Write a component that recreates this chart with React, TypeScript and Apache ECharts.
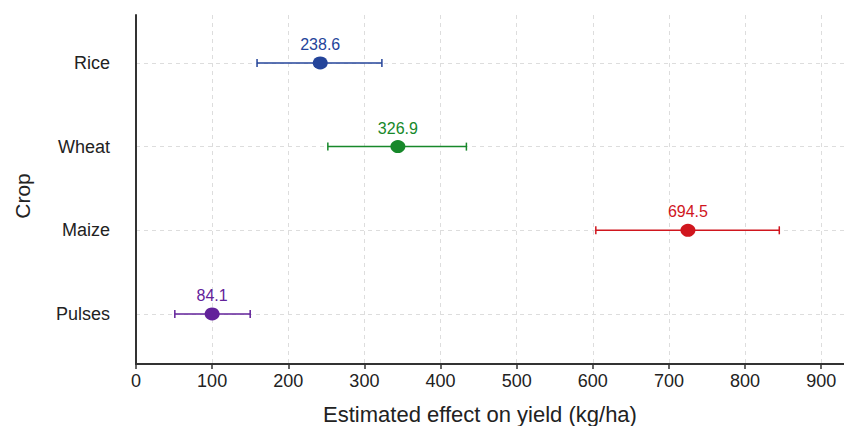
import React, { useEffect, useRef } from "react";
import * as echarts from "echarts";

const crops = ["Rice", "Wheat", "Maize", "Pulses"];
const estimates = [242, 344, 725, 100];
const lowerBounds = [159, 252, 604, 51];
const upperBounds = [323, 434, 845, 150];
const labelTexts = ["238.6", "326.9", "694.5", "84.1"];
const colors = ["#24449a", "#17882a", "#d0161e", "#62229a"];
const xTicks = [0, 100, 200, 300, 400, 500, 600, 700, 800, 900];
const rowIndex = [0, 1, 2, 3];
const xTitle = "Estimated effect on yield (kg/ha)";
const yTitle = "Crop";

const FONT = "'Liberation Sans', Arial, Helvetica, sans-serif";

export default function App() {
  const ref = useRef<HTMLDivElement>(null);
  useEffect(() => {
    if (!ref.current) return;
    const chart = echarts.init(ref.current, undefined, { renderer: "svg" });
    const option = {
      animation: false,
      backgroundColor: "#ffffff",
      textStyle: { fontFamily: FONT },
      grid: { left: 136, top: 15, right: 0, bottom: 62, outerBoundsMode: "none", containLabel: false },
      graphic: [
        {
          type: "text",
          x: 480,
          y: 414,
          style: { text: xTitle, fontSize: 22, fill: "#222", fontFamily: FONT, align: "center", verticalAlign: "middle" },
        },
        {
          type: "text",
          x: 22,
          y: 196,
          rotation: Math.PI / 2,
          style: { text: yTitle, fontSize: 21, fill: "#222", fontFamily: FONT, align: "center", verticalAlign: "middle" },
        },
      ],
      xAxis: {
        type: "value",
        min: 0,
        max: 930,
        axisLine: { show: true, onZero: false, lineStyle: { color: "#333", width: 2 } },
        axisTick: { show: true, length: 5, customValues: xTicks, lineStyle: { color: "#333", width: 1.5 } },
        axisLabel: { customValues: xTicks, color: "#222", fontSize: 18, margin: 8, fontFamily: FONT },
        splitLine: { show: true, lineStyle: { color: "#dddddd", type: [4, 4], width: 1 } },
      },
      yAxis: {
        type: "value",
        inverse: true,
        min: -0.573,
        max: 3.598,
        axisLine: { show: true, onZero: false, lineStyle: { color: "#333", width: 2 } },
        axisTick: { show: false, customValues: rowIndex },
        axisLabel: {
          customValues: rowIndex,
          color: "#222",
          fontSize: 18,
          margin: 26,
          fontFamily: FONT,
          formatter: (v: number) => crops[Math.round(v)] ?? "",
        },
        splitLine: { show: true, lineStyle: { color: "#dddddd", type: [4, 4], width: 1 } },
      },
      series: [
        {
          type: "custom",
          data: crops.map((_, i) => [i, lowerBounds[i], upperBounds[i]]),
          encode: { x: [1, 2], y: 0 },
          renderItem: (params: any, api: any) => {
            const i = api.value(0);
            const lo = api.coord([api.value(1), i]);
            const hi = api.coord([api.value(2), i]);
            const c = colors[params.dataIndex];
            const cap = 4;
            const style = { stroke: c, lineWidth: 1.5 };
            return {
              type: "group",
              children: [
                { type: "line", shape: { x1: lo[0], y1: lo[1], x2: hi[0], y2: hi[1] }, style },
                { type: "line", shape: { x1: lo[0], y1: lo[1] - cap, x2: lo[0], y2: lo[1] + cap }, style },
                { type: "line", shape: { x1: hi[0], y1: hi[1] - cap, x2: hi[0], y2: hi[1] + cap }, style },
              ],
            };
          },
          z: 2,
        },
        {
          type: "scatter",
          symbol: "circle",
          symbolSize: [15, 13],
          data: crops.map((_, i) => ({
            value: [estimates[i], i],
            itemStyle: { color: colors[i], opacity: 1 },
            label: { color: colors[i] },
          })),
          label: {
            show: true,
            position: "top",
            distance: 4,
            fontSize: 16,
            fontFamily: FONT,
            formatter: (p: any) => labelTexts[p.dataIndex],
          },
          z: 3,
        },
      ],
    };
    chart.setOption(option as any);
    return () => chart.dispose();
  }, []);
  return <div ref={ref} style={{ width: 844, height: 426, position: "absolute", left: 0, top: 0 }} />;
}
